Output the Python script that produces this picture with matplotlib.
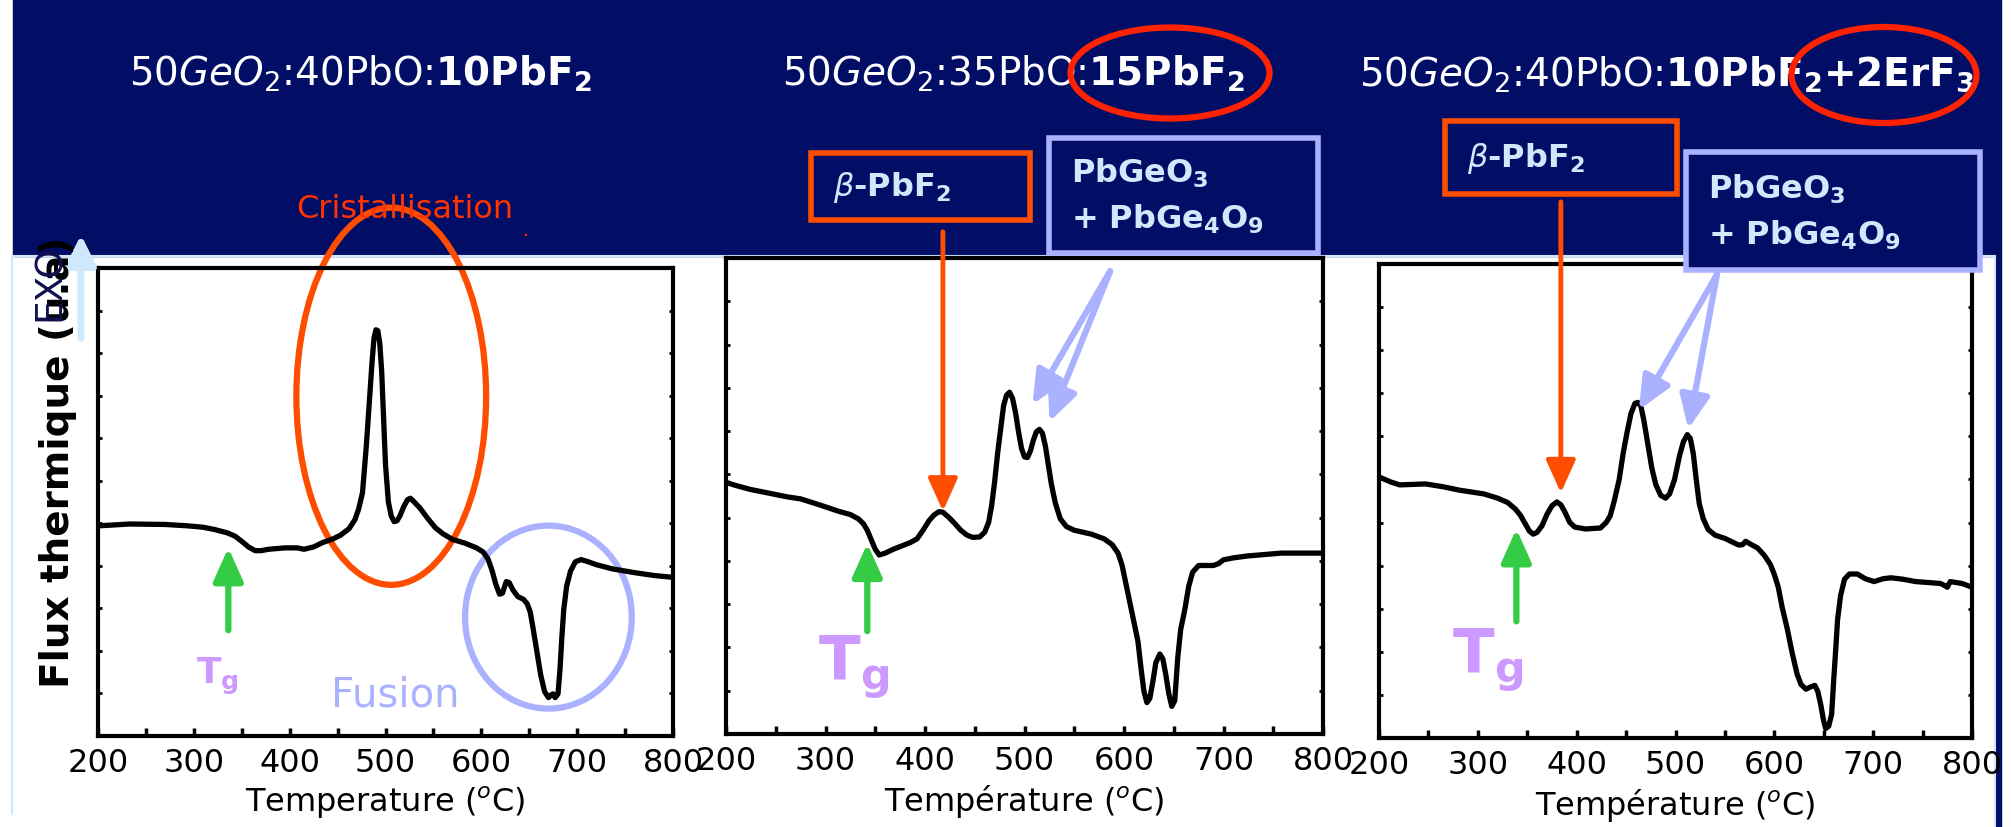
import numpy as np
import matplotlib
matplotlib.use("Agg")
from matplotlib import pyplot as plt
from matplotlib.patches import Rectangle, Ellipse, FancyArrowPatch
from matplotlib.lines import Line2D
from matplotlib.ticker import MultipleLocator

# ---- DSC curves (T in degC, heat flow as fraction of the axis height) ----
t1 = [200, 233, 270, 294, 310, 322, 335, 343, 350, 357, 364, 370, 378, 395, 408, 415, 425,
      434, 445, 453, 462, 468, 472, 476, 480, 483, 486, 488, 490, 492, 494, 496, 498, 500,
      503, 506, 509, 512, 515, 519, 523, 526, 530, 536, 544, 552, 560, 570, 583, 595, 602,
      607, 611, 615, 619, 622, 626, 629, 633, 638, 644, 648, 651, 654, 658, 662, 666, 670,
      673, 675, 677, 680, 682, 684, 686, 689, 693, 698, 704, 712, 720, 737, 760, 780, 800]
f1 = [.449, .453, .452, .449, .446, .441, .434, .427, .416, .404, .396, .396, .399, .402,
      .402, .399, .404, .413, .421, .429, .443, .462, .485, .52, .62, .71, .80, .85, .868,
      .866, .84, .78, .68, .58, .50, .47, .458, .46, .47, .49, .505, .508, .50, .487, .465,
      .445, .432, .42, .412, .402, .393, .378, .355, .325, .303, .305, .33, .328, .312, .298,
      .292, .282, .265, .23, .18, .13, .095, .082, .088, .09, .082, .09, .14, .21, .27, .32,
      .352, .372, .377, .372, .366, .357, .349, .343, .339]

t2 = [201, 210, 224, 262, 275, 296, 313, 325, 333, 338, 342, 346, 350, 354, 360, 368, 385,
      392, 398, 404, 409, 414, 418, 424, 430, 436, 442, 448, 455, 460, 464, 467, 470, 473,
      476, 479, 482, 485, 488, 491, 494, 497, 500, 503, 506, 509, 512, 515, 518, 521, 524,
      527, 531, 536, 542, 550, 567, 580, 588, 594, 598, 602, 606, 610, 614, 617, 620, 623,
      626, 629, 632, 636, 639, 642, 645, 648, 651, 654, 657, 661, 665, 669, 675, 690, 695,
      700, 710, 724, 758, 800]
f2 = [.528, .522, .514, .498, .494, .480, .468, .461, .452, .442, .428, .408, .388, .376,
      .38, .388, .402, .41, .428, .448, .460, .467, .466, .455, .442, .428, .418, .413, .414,
      .424, .445, .48, .53, .59, .64, .69, .712, .718, .705, .675, .635, .60, .582, .581, .595,
      .618, .635, .64, .632, .605, .565, .525, .485, .452, .436, .428, .42, .41, .398, .38,
      .355, .315, .275, .235, .195, .14, .09, .066, .075, .11, .15, .168, .158, .125, .085,
      .058, .07, .16, .22, .26, .31, .34, .354, .354, .358, .366, .37, .374, .380, .380]

t3 = [201, 212, 221, 247, 265, 281, 306, 320, 330, 338, 343, 348, 352, 356, 360, 365, 370,
      375, 380, 384, 388, 393, 398, 409, 424, 430, 434, 438, 443, 447, 451, 455, 459, 462,
      465, 468, 472, 476, 480, 485, 490, 494, 499, 504, 508, 512, 515, 518, 521, 524, 528,
      533, 540, 550, 564, 568, 571, 575, 583, 590, 596, 600, 604, 608, 613, 618, 623, 627,
      632, 637, 641, 644, 647, 650, 652, 655, 658, 660, 662, 664, 667, 671, 676, 684, 692,
      701, 710, 718, 730, 743, 768, 772, 775, 778, 790, 800]
f3 = [.550, .540, .534, .536, .53, .523, .515, .506, .497, .483, .47, .452, .437, .43, .434,
      .448, .472, .49, .498, .492, .477, .455, .445, .441, .443, .455, .469, .50, .545, .60,
      .645, .685, .706, .708, .700, .67, .62, .57, .535, .512, .506, .515, .545, .595, .625,
      .64, .632, .60, .545, .495, .463, .44, .428, .421, .407, .408, .415, .41, .401, .385,
      .366, .345, .318, .275, .231, .18, .135, .113, .103, .108, .111, .098, .07, .035, .02,
      .025, .05, .12, .183, .25, .30, .335, .346, .346, .336, .330, .336, .338, .335, .330,
      .326, .322, .318, .330, .326, .318]

titles = [r"50$\mathit{GeO}_2$:40PbO:$\mathbf{10PbF_2}$",
          r"50$\mathit{GeO}_2$:35PbO:$\mathbf{15PbF_2}$",
          r"50$\mathit{GeO}_2$:40PbO:$\mathbf{10PbF_2{+}2ErF_3}$"]
xlabels = ["Temperature ($^o$C)", "Température ($^o$C)", "Température ($^o$C)"]
xticks = [200, 300, 400, 500, 600, 700, 800]

NAVY = "#020e66"
LBLUE = "#cfe8fb"
ORANGE = "#ff4d00"
RED = "#ff2200"
LAV = "#aab2ff"
PURPLE = "#cc99ff"
GREEN = "#33cc44"

W, H = 2011, 828
fig = plt.figure(figsize=(W / 100, H / 100), dpi=100)
fig.patch.set_facecolor("white")

def fx(px):
    return px / W

def fy(py):
    return 1 - py / H

# slide background (behind the axes)
fig.patches.append(Rectangle((fx(13), fy(257)), fx(2001) - fx(13), 257 / H,
                             transform=fig.transFigure, color=NAVY, zorder=-2))
fig.patches.append(Rectangle((fx(1996), 0), fx(2001) - fx(1996), fy(257),
                             transform=fig.transFigure, color=NAVY, zorder=-2))
for xs, ys in [([12, 12], [257, 815]), ([12, 1995], [257, 257]), ([1995, 1995], [257, 828])]:
    fig.add_artist(Line2D([fx(v) for v in xs], [fy(v) for v in ys], color=LBLUE, lw=1.5,
                          zorder=-1))

# axes boxes (px: left, top, right, bottom)
boxes = [(98, 269, 673, 737), (726, 259, 1323, 735), (1379, 265, 1972, 739)]
curves = [(t1, f1), (t2, f2), (t3, f3)]
axes = []
for (l, t, r, b), (tt, ff), xl in zip(boxes, curves, xlabels):
    ax = fig.add_axes([fx(l), fy(b), (r - l) / W, (b - t) / H])
    ax.plot(tt, ff, color="black", lw=3.8, solid_joinstyle="round", solid_capstyle="round")
    ax.set_xlim(200, 800)
    ax.set_ylim(0, 1)
    ax.set_xticks(xticks)
    ax.xaxis.set_minor_locator(MultipleLocator(50))
    ax.yaxis.set_major_locator(MultipleLocator(1 / 11))
    ax.tick_params(axis="x", which="both", direction="in", width=2.5, length=6,
                   labelsize=23, pad=8)
    ax.tick_params(axis="y", which="both", direction="in", left=True, right=True,
                   width=2, length=3, labelleft=False)
    for s in ax.spines.values():
        s.set_linewidth(3)
    ax.set_xlabel(xl, fontsize=23, labelpad=4)
    axes.append(ax)

ax1, ax2, ax3 = axes

# titles
for txt, cx in zip(titles, [360, 1013, 1667]):
    fig.text(fx(cx), fy(74), txt, color="white", fontsize=28, ha="center", va="center")
fig.patches.append(Ellipse((fx(1170), fy(74)), 199 / W, 91 / H, transform=fig.transFigure,
                           fill=False, ec=RED, lw=4.5, zorder=5))
fig.patches.append(Ellipse((fx(1884), fy(76)), 185 / W, 96 / H, transform=fig.transFigure,
                           fill=False, ec=RED, lw=4.5, zorder=5))

# panel 1 annotations
fig.text(fx(58), fy(462), "Flux thermique (u.a)", rotation=90, fontsize=28, fontweight="bold",
         ha="center", va="center")
fig.text(fx(50), fy(283), "EXO", rotation=90, fontsize=27, color="#101050",
         ha="center", va="center")
fig.add_artist(FancyArrowPatch((fx(81), fy(342)), (fx(81), fy(233)),
               transform=fig.transFigure, arrowstyle="-|>,head_width=0.5,head_length=1.0",
               mutation_scale=18, color=LBLUE, lw=5))
fig.text(fx(405), fy(210), "Cristallisation", color="#ff3300", fontsize=23,
         ha="center", va="center")
fig.text(fx(526), fy(230), ".", color="#ff3300", fontsize=14, ha="center", va="center")

ax1.add_patch(Ellipse((506, 0.726), 198, 0.806, fill=False, ec=ORANGE, lw=4.5, clip_on=False))
ax1.add_patch(Ellipse((670, 0.254), 174, 0.391, fill=False, ec=LAV, lw=4.5, clip_on=False))
ax1.text(510, 0.088, "Fusion", color=LAV, fontsize=29, ha="center", va="center")
ax1.text(325, 0.13, r"T$_\mathbf{g}$", color=PURPLE, fontsize=26, fontweight="bold",
         ha="center", va="center")

def arrow(ax, start, end, color, lw=4, hw=0.45):
    ax.annotate("", xy=end, xytext=start, annotation_clip=False,
                arrowprops=dict(arrowstyle="-|>,head_width=%g,head_length=1.0" % hw,
                                mutation_scale=20, color=color, lw=lw,
                                shrinkA=0, shrinkB=0))

arrow(ax1, (336, 0.226), (336, 0.402), GREEN, lw=4.5)
arrow(ax2, (342, 0.216), (342, 0.400), GREEN, lw=4.5)
arrow(ax3, (339, 0.246), (339, 0.441), GREEN, lw=4.5)

# orange (beta-PbF2) arrows
arrow(ax2, (418, 1.055), (418, 0.468), ORANGE, lw=3.5)
arrow(ax3, (384, 1.131), (384, 0.517), ORANGE, lw=3.5)

# lavender arrows
for ax, st, ends in [(ax2, (586, 0.972), [(508, 0.692), (525, 0.656)]),
                     (ax3, (542, 0.978), [(463, 0.692), (513, 0.652)])]:
    for e in ends:
        arrow(ax, st, e, LAV, lw=4.5)

# Tg labels panel 2/3
ax2.text(328, 0.143, r"T$_\mathbf{g}$", color=PURPLE, fontsize=44, fontweight="bold",
         ha="center", va="center")
ax3.text(310, 0.167, r"T$_\mathbf{g}$", color=PURPLE, fontsize=44, fontweight="bold",
         ha="center", va="center")

# label boxes in figure pixels
def label_box(l, t, r, b, ec, txt):
    fig.patches.append(Rectangle((fx(l), fy(b)), (r - l) / W, (b - t) / H,
                                 transform=fig.transFigure, fill=True, fc=NAVY, ec=ec,
                                 lw=4, zorder=6))
    fig.text(fx(l + 22), fy((t + b) / 2), txt, color=LBLUE, fontsize=23, fontweight="bold",
             ha="left", va="center", zorder=7, linespacing=1.5)

label_box(811, 154, 1030, 221, ORANGE, r"$\beta$-PbF$_\mathbf{2}$")
label_box(1049, 139, 1318, 254, LAV, "PbGeO$_\\mathbf{3}$\n+ PbGe$_\\mathbf{4}$O$_\\mathbf{9}$")
label_box(1445, 122, 1677, 195, ORANGE, r"$\beta$-PbF$_\mathbf{2}$")
label_box(1686, 153, 1980, 271, LAV, "PbGeO$_\\mathbf{3}$\n+ PbGe$_\\mathbf{4}$O$_\\mathbf{9}$")

fig.savefig("out.png", dpi=100, facecolor=fig.get_facecolor())
